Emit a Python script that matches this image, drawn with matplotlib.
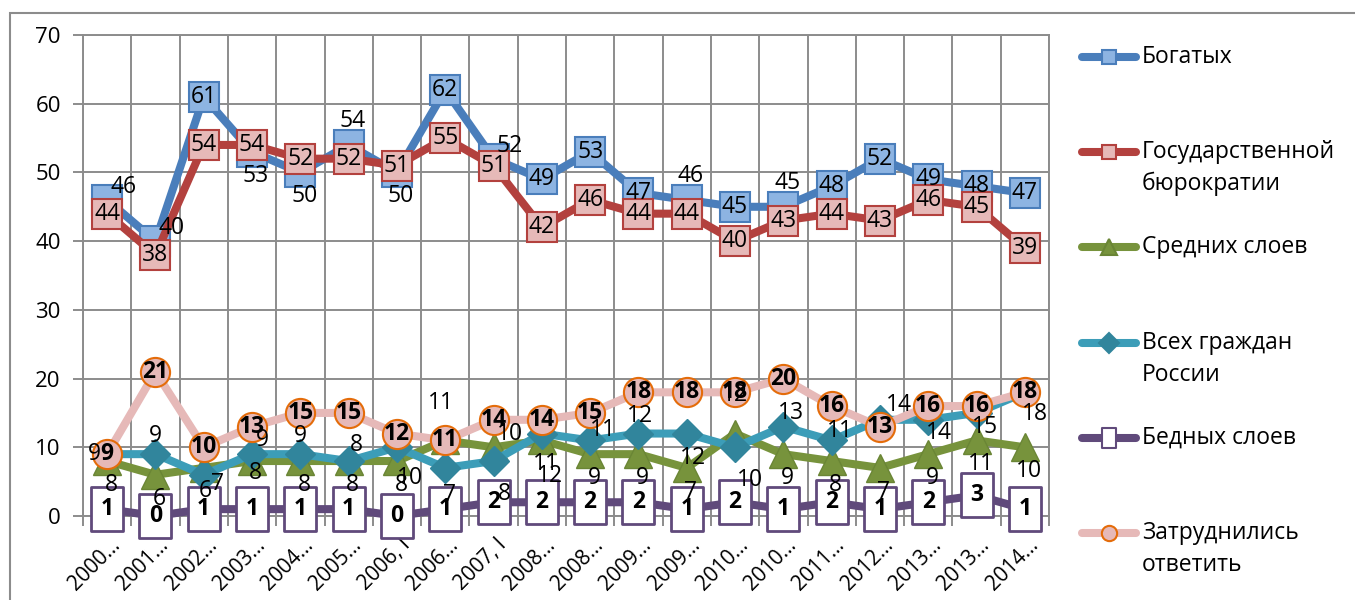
import matplotlib
matplotlib.use("Agg")
import matplotlib.pyplot as plt
from matplotlib.lines import Line2D
from matplotlib.patches import Rectangle
from matplotlib.path import Path
from matplotlib.transforms import ScaledTranslation
import numpy as np

plt.rcParams['font.family'] = ['Open Sans', 'DejaVu Sans']

# data
periods = ['2000…', '2001…', '2002…', '2003…', '2004…', '2005…', '2006, I',
           '2006…', '2007, I', '2008…', '2008…', '2009…', '2009…', '2010…',
           '2010…', '2011…', '2012…', '2013…', '2013…', '2014…']
rich = [46, 40, 61, 53, 50, 54, 50, 62, 52, 49, 53, 47, 46, 45, 45, 48, 52, 49, 48, 47]
bureaucracy = [44, 38, 54, 54, 52, 52, 51, 55, 51, 42, 46, 44, 44, 40, 43, 44, 43, 46, 45, 39]
middle = [8, 6, 7, 8, 8, 8, 8, 11, 10, 11, 9, 9, 7, 12, 9, 8, 7, 9, 11, 10]
all_citizens = [9, 9, 6, 9, 9, 8, 10, 7, 8, 12, 11, 12, 12, 10, 13, 11, 14, 14, 15, 18]
poor = [1, 0, 1, 1, 1, 1, 0, 1, 2, 2, 2, 2, 1, 2, 1, 2, 1, 2, 3, 1]
no_answer = [9, 21, 10, 13, 15, 15, 12, 11, 14, 14, 15, 18, 18, 18, 20, 16, 13, 16, 16, 18]

names = ['Богатых', 'Государственной\nбюрократии', 'Средних слоев',
         'Всех граждан\nРоссии', 'Бедных слоев', 'Затруднились\nответить']

PX = 0.72  # points per pixel at dpi 100

# label offsets in pixels (dx, dy up), per point
C = (0, 0)
A = (4, 24)
B = (4, -24)
AR = (16, 13)
BR = (14, -16)
rich_pos = [AR, AR, C, B, B, A, B, C, AR, C, C, C, A, C, A, C, C, C, C, C]
middle_pos = [B, B, BR, (3, -12), B, B, B, (-4, 37), AR, B, B, B, B, (0, 39), B, B, B, B, B, B]
all_pos = [(-13, 0), (0, 18), (2, -16), (10, 14), (0, 18), (8, 16), (13, -31), (4, -27),
           (11, -33), (8, -42), (13, 10), (2, 18), (6, -24), (15, -33), (8, 14), (8, 9),
           (19, 15), (11, -13), (8, -14), (10, -22)]

poor_box = Path([(-0.73, -1), (0.73, -1), (0.73, 1), (-0.73, 1), (-0.73, -1)],
                [Path.MOVETO, Path.LINETO, Path.LINETO, Path.LINETO, Path.CLOSEPOLY])

styles = [
    dict(color='#4A7EBB', marker='s', ms=21, mfc='#8DB4E2', mec='#4A7EBB', mew=1.5),
    dict(color='#B3413E', marker='s', ms=21, mfc='#E6B9B8', mec='#B3413E', mew=1.5),
    dict(color='#77933C', marker='^', ms=20, mfc='#77933C', mec='#6A8535', mew=1),
    dict(color='#3C9DB8', marker='D', ms=15, mfc='#31859C', mec='#31859C', mew=1),
    dict(color='#604A7B', marker=poor_box, ms=31, mfc='white', mec='#604A7B', mew=2),
    dict(color='#E6B9B8', marker='o', ms=21, mfc='#E6B9B8', mec='#E46C0A', mew=1.5),
]
legend_ms = [10, 10, 11, 10, 14, 11]

series = [rich, bureaucracy, middle, all_citizens, poor, no_answer]

fig = plt.figure(figsize=(13.55, 6), dpi=100)
fig.patches.append(Rectangle((10 / 1355, -0.05), 1.2, 1 - 13 / 600 + 0.05,
                             transform=fig.transFigure, fill=False,
                             edgecolor='#8c8c8c', linewidth=1.5))

ax = fig.add_axes([83 / 1355, 1 - 516 / 600, (1049 - 83) / 1355, (516 - 35) / 600])
x = np.arange(len(periods))

for k, (vals, st) in enumerate(zip(series, styles)):
    ax.plot(x, vals, color=st['color'], lw=5.8, marker=st['marker'], ms=st['ms'],
            mfc=st['mfc'], mec=st['mec'], mew=st['mew'], solid_capstyle='round',
            solid_joinstyle='round', zorder=3 + k, clip_on=False)

def put_labels(vals, pos, bold=False):
    for i, v in enumerate(vals):
        dx, dy = pos[i] if pos else (0, 0)
        ax.annotate(str(v), (i, v), xytext=(dx * PX, dy * PX), textcoords='offset points',
                    ha='center', va='center', fontsize=16.5,
                    fontweight='bold' if bold else 'normal', color='black',
                    zorder=20, annotation_clip=False)

put_labels(rich, rich_pos)
put_labels(bureaucracy, None)
put_labels(middle, middle_pos)
put_labels(all_citizens, all_pos)
put_labels(poor, None, bold=True)
put_labels(no_answer, None, bold=True)

ax.set_xlim(-0.5, len(periods) - 0.5)
ax.set_ylim(0, 70)
ax.set_yticks(range(0, 71, 10))
ax.set_xticks(x)
ax.set_xticks(np.arange(-0.5, len(periods), 1), minor=True)
ax.grid(True, which='minor', axis='x', color='#8c8c8c', lw=1.4)
ax.grid(True, which='major', axis='y', color='#8c8c8c', lw=1.4)
ax.set_axisbelow(True)
ax.tick_params(axis='x', which='major', length=0, pad=10)
ax.tick_params(axis='x', which='minor', length=7, color='#8c8c8c', width=1.4)
ax.tick_params(axis='y', length=7, color='#8c8c8c', width=1.4, labelsize=16, pad=9)
for s in ax.spines.values():
    s.set_color('#8c8c8c')
    s.set_linewidth(1.4)

ax.set_xticklabels(periods, rotation=45, ha='right', va='center',
                   rotation_mode='anchor', fontsize=15)
shift = ScaledTranslation(10 / 100, -12 / 100, fig.dpi_scale_trans)
for lab in ax.get_xticklabels():
    lab.set_transform(lab.get_transform() + shift)

# legend on the right
for k, (name, st) in enumerate(zip(names, styles)):
    yy = 1 - (57 + 95.2 * k) / 600
    x0, x1 = 1082 / 1355, 1136 / 1355
    fig.add_artist(Line2D([x0, x1], [yy, yy], transform=fig.transFigure,
                          color=st['color'], lw=5.8, solid_capstyle='round'))
    fig.add_artist(Line2D([(x0 + x1) / 2], [yy], transform=fig.transFigure,
                          marker=st['marker'], ms=legend_ms[k], mfc=st['mfc'],
                          mec=st['mec'], mew=1.5, lw=0))
    for j, line in enumerate(name.split('\n')):
        fig.text(1142 / 1355, yy - j * 32 / 600, line, ha='left', va='center',
                 fontsize=16.5, color='black')

fig.savefig('out.png', dpi=100)
